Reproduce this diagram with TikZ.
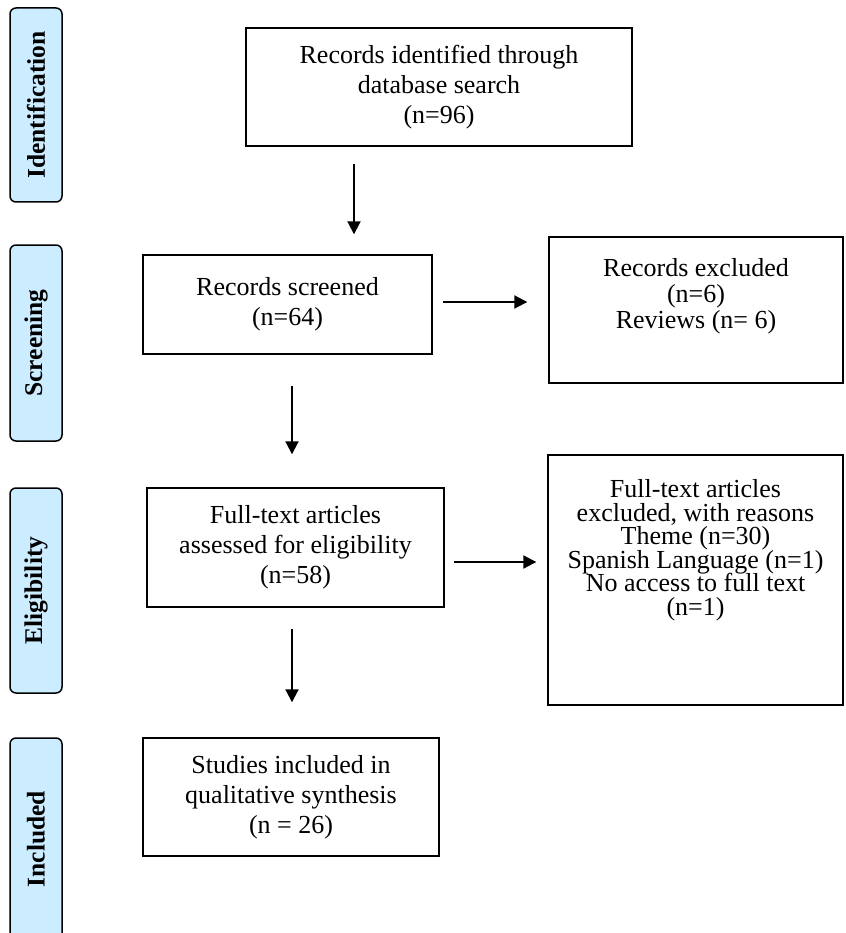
\documentclass[tikz,border=0pt]{standalone}
\usepackage{fontspec}
\setmainfont{Liberation Serif}
\usetikzlibrary{arrows.meta,positioning}
\definecolor{tabblue}{RGB}{204,236,255}
\begin{document}
\begin{tikzpicture}[x=1pt, y=-1pt,
    stage/.style={draw, line width=1.5pt, rounded corners=6pt, fill=tabblue, rotate=90, minimum height=52pt, inner sep=0pt, font=\fontsize{25.5}{30}\selectfont\bfseries},
    box/.style={draw, line width=1.4pt, align=center, inner sep=0pt, font=\fontsize{26}{30}\selectfont},
    sidetext/.style={align=center, inner sep=0pt, font=\fontsize{26}{23.5}\selectfont, execute at begin node={\setlength{\lineskiplimit}{-20pt}}},
    arr/.style={-{Triangle[length=13pt, width=13pt]}, line width=2pt}]
    \useasboundingbox (0,0) rectangle (845,933);

    % Stages
    \node[stage, minimum width=194pt] (ident) at (36,105) {Identification};
    \node[stage, minimum width=196pt] (screen) at (36,343) {Screening};
    \node[stage, minimum width=205pt] (elig) at (36,590.5) {Eligibility};
    \node[stage, minimum width=202pt] (incl) at (36,839) {Included};

    % Main column
    \node[box, minimum width=386pt, minimum height=118pt] (search) at (439,87) {Records identified through\\database search\\(n=96)};
    \node[box, minimum width=289pt, minimum height=99pt] (screened) at (287.5,304.5) {Records screened\\(n=64)};
    \node[box, minimum width=297pt, minimum height=119pt] (fulltext) at (295.5,547.5) {Full-text articles\\assessed for eligibility\\(n=58)};
    \node[box, minimum width=296pt, minimum height=118pt] (studies) at (291,797) {Studies included in\\qualitative synthesis\\(n = 26)};

    % Exclusions
    \node[box, minimum width=294pt, minimum height=146pt] (excl1) at (696,310) {};
    \node[sidetext, font=\fontsize{26}{26}\selectfont, below=22pt of excl1.north] (excl1txt) {Records excluded\\(n=6)\\Reviews (n= 6)};
    \node[box, minimum width=295pt, minimum height=250pt] (excl2) at (695.5,580) {};
    \node[sidetext, below=25pt of excl2.north] (excl2txt) {Full-text articles\\excluded, with reasons\\Theme (n=30)\\Spanish Language (n=1)\\No access to full text\\(n=1)};

    % Arrows
    \draw[arr] ([shift={(-85,17)}]search.south) -- ([shift={(66.5,-20)}]screened.north);
    \draw[arr] ([shift={(10,-2.5)}]screened.east) -- ([shift={(-21,-8)}]excl1.west);
    \draw[arr] ([shift={(4.5,31)}]screened.south) -- ([shift={(-3.5,-33)}]fulltext.north);
    \draw[arr] ([shift={(9,14.5)}]fulltext.east) -- ([shift={(-11,-18)}]excl2.west);
    \draw[arr] ([shift={(-3.5,21)}]fulltext.south) -- ([shift={(1,-35)}]studies.north);
\end{tikzpicture}
\end{document}
